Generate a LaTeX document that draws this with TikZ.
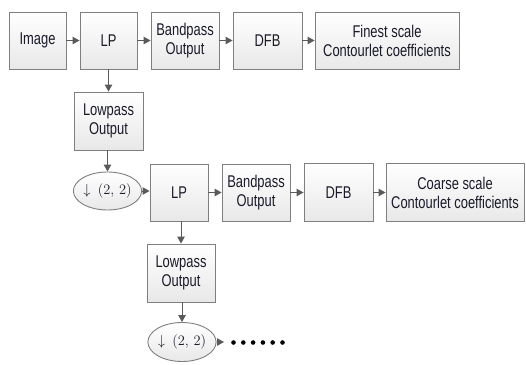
\documentclass[tikz,border=0pt]{standalone}
\usepackage{fontspec}
\setmainfont[FakeStretch=0.76]{Liberation Sans}
\usetikzlibrary{arrows.meta,shapes.geometric}
\definecolor{edgegray}{HTML}{7F7F7F}
\definecolor{linegray}{HTML}{5A5A5A}
\definecolor{txt}{HTML}{1A1A2A}
\tikzset{
  blk/.style={draw=edgegray, line width=0.9pt, top color=white, bottom color=black!9,
    inner sep=0pt, align=center, font=\fontsize{17}{19}\selectfont, text=txt},
  ds/.style={ellipse, draw=edgegray, line width=0.9pt, top color=white, bottom color=black!9,
    inner sep=0pt, minimum width=61pt, minimum height=38pt, font=\fontsize{15.5}{17}\selectfont, text=txt},
  conn/.style={draw=linegray, line width=1pt, -{Triangle[length=7pt,width=7.5pt]}},
  dot/.style={circle, fill=black, inner sep=0pt, minimum size=4.6pt}
}
\begin{document}
\begin{tikzpicture}[x=1pt,y=-1pt]
\useasboundingbox (0,0) rectangle (526,364);
% row 1
\node[blk, minimum width=57pt, minimum height=57pt] (img) at (37.5,40.5) {Image};
\node[blk, minimum width=57pt, minimum height=57pt] (lp1) at (108.5,40.5) {LP};
\node[blk, minimum width=68pt, minimum height=57pt] (bp1) at (185,40.5) {Bandpass\\Output};
\node[blk, minimum width=69pt, minimum height=57pt] (dfb1) at (267.5,40.5) {DFB};
\node[blk, minimum width=144pt, minimum height=57pt] (fin) at (387,40.5) {Finest scale\\Contourlet coefficients};
\node[blk, minimum width=69pt, minimum height=58pt] (lo1) at (108.5,121) {Lowpass\\Output};
\node[ds] (ds1) at (107.5,191) {$\downarrow\ (2,\,2)$};
% row 2
\node[blk, minimum width=58pt, minimum height=57pt] (lp2) at (179,192.5) {LP};
\node[blk, minimum width=68pt, minimum height=57pt] (bp2) at (256,192.5) {Bandpass\\Output};
\node[blk, minimum width=69pt, minimum height=58pt] (dfb2) at (338.5,192.5) {DFB};
\node[blk, minimum width=138pt, minimum height=58pt] (coarse) at (455,192.5) {Coarse scale\\Contourlet coefficients};
\node[blk, minimum width=68pt, minimum height=58pt] (lo2) at (181,273) {Lowpass\\Output};
\node[ds, minimum height=39pt] (ds2) at (182,342) {$\downarrow\ (2,\,2)$};
\coordinate (dend) at (224,342);
\foreach \i in {0,...,5} { \node[dot] (d\i) at (233.5+\i*9.8,342.5) {}; }
% connectors
\draw[conn] (img) -- (lp1);
\draw[conn] (lp1) -- (bp1);
\draw[conn] (bp1) -- (dfb1);
\draw[conn] (dfb1) -- (fin);
\draw[conn] (lp1.south) -- (lo1.north);
\draw[conn] (lo1.south -| ds1.north) -- (ds1.north);
\draw[conn] (ds1) -- (lp2.west |- ds1.east);
\draw[conn] (lp2) -- (bp2);
\draw[conn] (bp2) -- (dfb2);
\draw[conn] (dfb2) -- (coarse);
\draw[conn] (lo2.north |- lp2.south) -- (lo2.north);
\draw[conn] (lo2.south -| ds2.north) -- (ds2.north);
\draw[conn] (ds2) -- (dend);
\end{tikzpicture}
\end{document}
